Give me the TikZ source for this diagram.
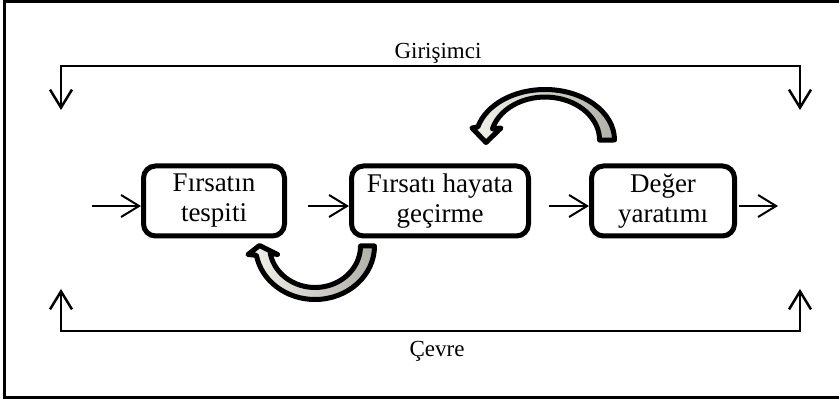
\documentclass[tikz,border=0pt]{standalone}
\usepackage{fontspec}
\setmainfont{Liberation Serif}
\usetikzlibrary{arrows.meta}
\definecolor{headgray}{HTML}{F2F2EA}
\definecolor{tailgray}{HTML}{B0B0A8}
\begin{document}
\begin{tikzpicture}[x=1pt,y=1pt,
  stagebox/.style={draw, line width=5pt, rounded corners=12pt, minimum height=70pt, inner sep=0pt, align=center, font=\fontsize{27}{30}\selectfont},
  thinarrow/.style={line width=2pt, -{Straight Barb[length=18pt,width=22pt]}},
  bracket/.style={line width=2.5pt, {Straight Barb[length=18pt,width=22pt]}-{Straight Barb[length=18pt,width=22pt]}},
  curvearrow/.style={draw=black, line width=5pt, line join=round, left color=headgray, right color=tailgray},
  outertext/.style={font=\fontsize{23}{26}\selectfont, inner sep=0pt}
]
\useasboundingbox (0,0) rectangle (839,402);
% frame
\draw[line width=3pt] (4.5,402) -- (4.5,4);
\draw[line width=2.5pt] (3,4.5) -- (839,4.5);
\draw[line width=2.5pt] (3,400.5) -- (839,400.5);

% stages
\node[stagebox, minimum width=141pt] (b1) at (214,201) {Fırsatın\\tespiti};
\node[stagebox, minimum width=177pt] (b2) at (440,201) {Fırsatı hayata\\geçirme};
\node[stagebox, minimum width=143pt] (b3) at (663,201) {Değer\\yaratımı};

% straight arrows
\coordinate (in) at (92,196);
\coordinate (out) at (778,196);
\draw[thinarrow] (in) -- ([yshift=-5pt]b1.west);
\draw[thinarrow, shorten <=21pt] ([yshift=-5pt]b1.east) -- ([yshift=-5pt]b2.west);
\draw[thinarrow, shorten <=18pt] ([yshift=-5pt]b2.east) -- ([yshift=-5pt]b3.west);
\draw[thinarrow, shorten <=2pt] ([yshift=-5pt]b3.east) -- (out);

% brackets
\coordinate (tl) at (61,336);
\coordinate (tr) at (800,336);
\coordinate (tlt) at (61,292);
\coordinate (trt) at (800,292);
\draw[bracket] (tlt) -- (tl) -- (tr) -- (trt);
\coordinate (bl) at (61,71);
\coordinate (br) at (800,71);
\coordinate (blt) at (61,113);
\coordinate (brt) at (800,113);
\draw[bracket] (blt) -- (bl) -- (br) -- (brt);

\node[outertext, anchor=base] (ent) at (438,343) {Girişimci};
\node[outertext, anchor=base] (env) at (437,45) {Çevre};

% curved block arrows
\draw[curvearrow] (374.5,156) arc[start angle=0, end angle=-170, x radius=59.5, y radius=53.5]
  -- (248,147.5) -- (259.5,156.5) -- (277.5,147.5) -- (270.2,148.8)
  arc[start angle=-170, end angle=0, x radius=45.5, y radius=41.5] -- cycle;
\draw[curvearrow] (614.5,262) arc[start angle=0, end angle=165, x radius=69.5, y radius=50.5]
  -- (472,274) -- (486,259.5) -- (501,274) -- (492.4,273.1)
  arc[start angle=165, end angle=0, x radius=54.5, y radius=43] -- cycle;
\end{tikzpicture}
\end{document}
